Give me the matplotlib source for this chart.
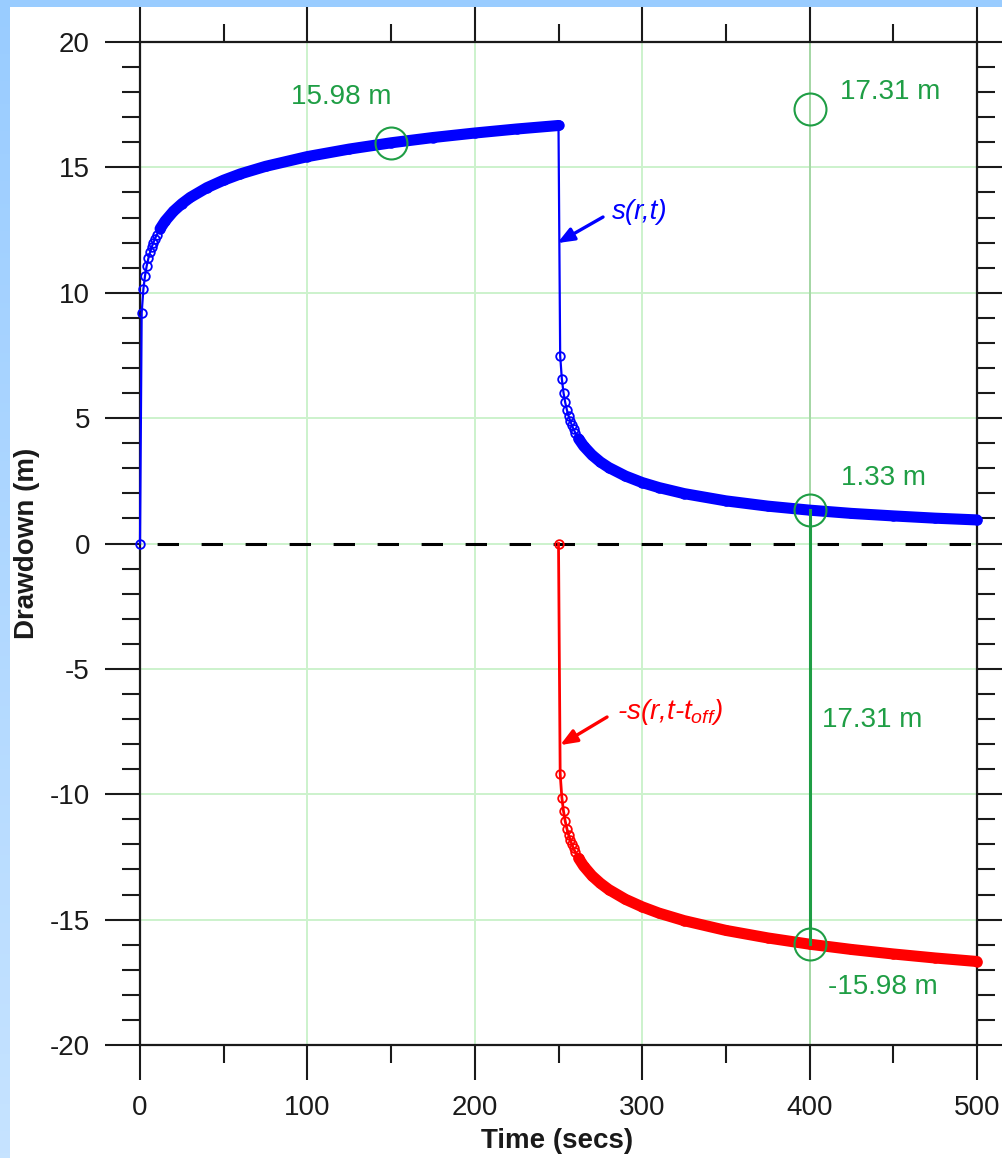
import numpy as np
import matplotlib
matplotlib.use("Agg")
import matplotlib.pyplot as plt
from matplotlib.patches import Rectangle
from matplotlib.colors import LinearSegmentedColormap

plt.rcParams['font.family'] = ['Liberation Sans', 'DejaVu Sans']
plt.rcParams['mathtext.fontset'] = 'custom'
plt.rcParams['mathtext.rm'] = 'Liberation Sans:italic'
plt.rcParams['mathtext.it'] = 'Liberation Sans:italic'
plt.rcParams['axes.unicode_minus'] = False

T_OFF = 250  # pump switched off (secs)

# drawdown while pumping, s(r,t)
pump_time = [0, 1, 2, 3, 4, 5, 6, 7, 8, 9, 10, 12, 15, 20, 25, 30, 40, 50,
             60, 75, 100, 125, 150, 175, 200, 225, 250]
pump_drawdown = [0.0, 9.19, 10.13, 10.68, 11.07, 11.37, 11.61, 11.82, 12.00,
                 12.16, 12.31, 12.55, 12.86, 13.25, 13.55, 13.80, 14.19, 14.49,
                 14.74, 15.04, 15.43, 15.73, 15.98, 16.19, 16.37, 16.53, 16.67]

# residual drawdown after the pump is switched off
recov_time = [251, 252, 253, 254, 255, 256, 257, 258, 259, 260, 262, 265, 270,
              275, 280, 290, 300, 310, 325, 350, 375, 400, 425, 450, 475, 500]
recov_drawdown = [7.49, 6.56, 6.01, 5.63, 5.33, 5.09, 4.89, 4.71, 4.56, 4.42,
                  4.18, 3.89, 3.53, 3.25, 3.03, 2.69, 2.43, 2.23, 1.99, 1.70,
                  1.49, 1.33, 1.20, 1.10, 1.01, 0.94]

# read-off points
s_at_150 = 15.98
s_at_400 = 17.31
resid_at_400 = 1.33

BLUE = '#0000ff'
RED = '#ff0000'
GREEN = '#1f9e45'
GRID = '#ccf2cc'

fig = plt.figure(figsize=(10.02, 11.58), dpi=100)

# page background with white panel
bg = fig.add_axes([0, 0, 1, 1], zorder=-10)
bg.set_xlim(0, 1)
bg.set_ylim(0, 1)
bg.axis('off')
cmap = LinearSegmentedColormap.from_list('page', ['#99ccff', '#c6e3ff'])
bg.imshow(np.linspace(0, 1, 256).reshape(-1, 1), aspect='auto', cmap=cmap,
          extent=[0, 1, 0, 1], origin='upper')
bg.add_patch(Rectangle((10 / 1002, 0), 1, 1 - 7 / 1158, facecolor='white',
                       edgecolor='none', transform=bg.transAxes))

ax = fig.add_axes([140 / 1002, 1 - 1045 / 1158, 837 / 1002, 1003 / 1158])
ax.set_facecolor('white')
ax.set_xlim(0, 500)
ax.set_ylim(-20, 20)

ax.set_xticks(np.arange(0, 501, 100))
ax.set_xticks(np.arange(50, 500, 100), minor=True)
ax.set_yticks(np.arange(-20, 21, 5))
ax.set_yticks(np.arange(-20, 21, 1), minor=True)
ax.tick_params(which='both', direction='out', top=True, right=True,
               labeltop=False, labelright=False, width=1.5, color='#1a1a1a',
               labelcolor='#1a1a1a')
ax.tick_params(which='major', length=25, pad=11, labelsize=20)
ax.tick_params(which='minor', length=13)
for sp in ax.spines.values():
    sp.set_linewidth(1.6)
    sp.set_color('#1a1a1a')

ax.grid(True, which='major', color=GRID, lw=1.4)
ax.set_axisbelow(True)

# guide at t = 400
ax.axvline(400, color='#9fd29f', lw=1.2, zorder=1)

# zero line
ax.axhline(0, color='black', lw=2.2, zorder=3,
           linestyle=(8.8, (7.0, 7.4)))

# full blue record: pumping then recovery
blue_t = np.array(pump_time + recov_time)
blue_s = np.array(pump_drawdown + recov_drawdown)
ax.plot(blue_t, blue_s, color=BLUE, lw=1.6, marker='o', ms=6.2, mfc='none',
        mew=1.3, zorder=4, clip_on=False)
band = dict(color=BLUE, lw=8.0, solid_capstyle='round', zorder=4, clip_on=False)
i0 = pump_time.index(12)
ax.plot(pump_time[i0:], pump_drawdown[i0:], **band)
j0 = recov_time.index(262)
ax.plot(recov_time[j0:], recov_drawdown[j0:], **band)

# image well: -s(r, t - t_off)
red_t = np.array(pump_time) + T_OFF
red_s = -np.array(pump_drawdown)
ax.plot(red_t, red_s, color=RED, lw=2.0, marker='o', ms=6.2, mfc='none',
        mew=1.3, zorder=4, clip_on=False)
ax.plot(red_t[i0:], red_s[i0:], color=RED, lw=8.0, solid_capstyle='round',
        zorder=4, clip_on=False)

# read-off circles and superposition bar
ax.plot([400, 400], [resid_at_400, -s_at_150], color=GREEN, lw=2.2, zorder=5)
ax.plot([150, 400, 400, 400], [s_at_150, s_at_400, resid_at_400, -s_at_150],
        linestyle='none', marker='o', ms=23, mfc='none', mec=GREEN, mew=1.5,
        zorder=6)

tk = dict(color=GREEN, fontsize=20, va='center')
ax.text(120, 17.8, f'{s_at_150:.2f} m', ha='center', **tk)
ax.text(418, 18.0, f'{s_at_400:.2f} m', ha='left', **tk)
ax.text(419, 2.61, f'{resid_at_400:.2f} m', ha='left', **tk)
ax.text(407.7, -7.04, f'{resid_at_400 + s_at_150:.2f} m', ha='left', **tk)
ax.text(411, -17.67, f'{-s_at_150:.2f} m', ha='left', **tk)

# curve labels with arrows
ax.annotate('', xy=(249.3, 11.98), xytext=(276.6, 13.02),
            arrowprops=dict(arrowstyle='-|>,head_length=1.0,head_width=0.4',
                            color=BLUE, lw=2.4, shrinkA=0, shrinkB=0), zorder=7)
ax.text(282, 13.22, 's(r,t)', color=BLUE, fontsize=20, style='italic',
        va='center')
ax.annotate('', xy=(251.0, -8.04), xytext=(279, -6.92),
            arrowprops=dict(arrowstyle='-|>,head_length=1.0,head_width=0.4',
                            color=RED, lw=2.4, shrinkA=0, shrinkB=0), zorder=7)
ax.text(285, -6.71, '$\\mathit{\u2010s(r{,}t\u2010t_{off})}$', color=RED,
        fontsize=20, va='center')

# axis titles
ax.text(0.498, -0.0957, 'Time (secs)', transform=ax.transAxes, ha='center',
        va='center', fontsize=20, fontweight='bold', color='#1a1a1a')
ax.text(-0.135, 0.5, 'Drawdown (m)', transform=ax.transAxes, ha='center',
        va='center', rotation=90, fontsize=20, fontweight='bold',
        color='#1a1a1a')

fig.savefig('out.png', dpi=100)
